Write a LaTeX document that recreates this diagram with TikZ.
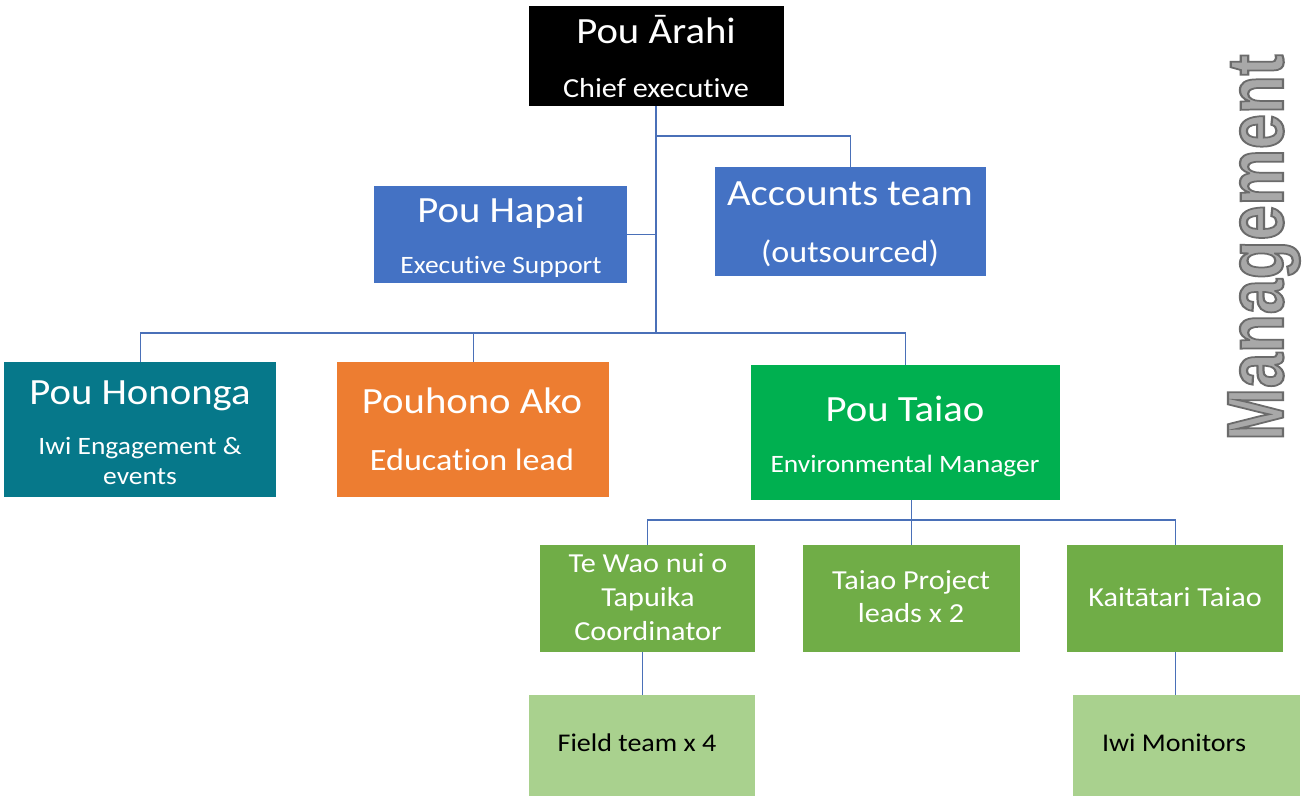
\documentclass[tikz,border=0pt]{standalone}
\usepackage{fontspec}
\setmainfont{Carlito}[Ligatures=NoCommon]
\newfontfamily\mgmtfont{Liberation Sans}
\usepackage{graphicx}
\definecolor{cblack}{HTML}{000000}
\definecolor{cblue}{HTML}{4472C4}
\definecolor{cteal}{HTML}{06788A}
\definecolor{corange}{HTML}{ED7D31}
\definecolor{cgreen}{HTML}{00B050}
\definecolor{cmid}{HTML}{70AD47}
\definecolor{clight}{HTML}{A9D18E}
\definecolor{linec}{HTML}{4A70B8}
\definecolor{mgray}{HTML}{A8A8A8}
\newcommand{\hwide}[1]{\scalebox{1.1}[1]{#1}}
\newcommand{\outlined}[1]{\special{pdf:literal 2 Tr 2.2 w 0.42 0.42 0.42 RG}#1\special{pdf:literal 0 Tr}}
\tikzset{
  box/.style={rectangle, draw=none, inner sep=0pt, anchor=north west},
  lbl/.style={anchor=base, inner sep=0pt, text=white},
  big/.style={lbl, font=\fontsize{37}{37}\selectfont},
  sub/.style={lbl, font=\fontsize{25}{25}\selectfont},
  mid/.style={lbl, font=\fontsize{31}{31}\selectfont},
  grn/.style={lbl, font=\fontsize{27.5}{27.5}\selectfont},
  lgt/.style={lbl, text=black, font=\fontsize{25.5}{25.5}\selectfont},
  conn/.style={draw=linec, line width=1.2pt},
  trunk/.style={draw=linec, line width=2pt},
}
\begin{document}
\begin{tikzpicture}[x=1pt,y=-1pt]
\useasboundingbox (0,0) rectangle (1303,796);
% boxes
\node[box, fill=cblack, minimum width=255pt, minimum height=100pt] (arahi) at (528.5,6) {};
\node[box, fill=cblue, minimum width=253pt, minimum height=97pt] (hapai) at (374,186) {};
\node[box, fill=cblue, minimum width=271pt, minimum height=109pt] (accounts) at (715,167) {};
\node[box, fill=cteal, minimum width=272pt, minimum height=135pt] (hononga) at (4,362) {};
\node[box, fill=corange, minimum width=272pt, minimum height=135pt] (ako) at (337,362) {};
\node[box, fill=cgreen, minimum width=309pt, minimum height=135pt] (taiao) at (751,365) {};
\node[box, fill=cmid, minimum width=215pt, minimum height=107pt] (tewao) at (540,545) {};
\node[box, fill=cmid, minimum width=217pt, minimum height=107pt] (project) at (803,545) {};
\node[box, fill=cmid, minimum width=216pt, minimum height=107pt] (kai) at (1067,545) {};
\node[box, fill=clight, minimum width=226pt, minimum height=101pt] (field) at (529,695) {};
\node[box, fill=clight, minimum width=227pt, minimum height=101pt] (iwi) at (1073,695) {};
% texts
\node[big] (t1) at (656,43) {\hwide{Pou Ārahi}};
\node[sub, font=\fontsize{27.5}{27.5}\selectfont] (t2) at (656,97) {\hwide{Chief executive}};
\node[big] (t3) at (501,222) {\hwide{Pou Hapai}};
\node[sub] (t4) at (501,273) {\hwide{Executive Support}};
\node[big] (t5) at (850,205) {\hwide{Accounts team}};
\node[mid] (t6) at (850,262) {\hwide{(outsourced)}};
\node[big] (t7) at (140,404) {\hwide{Pou Hononga}};
\node[sub] (t8) at (140,454) {\hwide{Iwi Engagement \&}};
\node[sub] (t9) at (140,484) {\hwide{events}};
\node[big] (t10) at (472,413) {\hwide{Pouhono Ako}};
\node[mid] (t11) at (472,470) {\hwide{Education lead}};
\node[big] (t12) at (905,421) {\hwide{Pou Taiao}};
\node[sub] (t13) at (905,472) {\hwide{Environmental Manager}};
\node[grn] (t14) at (648,572) {\hwide{Te Wao nui o}};
\node[grn] (t15) at (648,606) {\hwide{Tapuika}};
\node[grn] (t16) at (648,640) {\hwide{Coordinator}};
\node[grn] (t17) at (911,589) {\hwide{Taiao Project}};
\node[grn] (t18) at (911,622) {\hwide{leads x 2}};
\node[grn] (t19) at (1175,606) {\hwide{Kaitātari Taiao}};
\node[lgt] (t20) at (637,751) {\hwide{Field team x 4}};
\node[lgt] (t21) at (1174,751) {\hwide{Iwi Monitors}};
% side title
\node[anchor=base, rotate=90, inner sep=0pt, text=mgray, font=\mgmtfont\bfseries\fontsize{80}{80}\selectfont] (mgmt) at (1283,247.5) {\scalebox{0.79}[1]{\outlined{Management}}};
% connectors
\coordinate (j1) at (656,136);
\coordinate (bus) at (656,333);
\coordinate (tbus) at (912,520);
\draw[trunk] (arahi.south) -- (arahi.south |- bus);
\draw[conn] (arahi.south |- j1) -| (accounts.north);
\draw[conn] (hapai.east) -- (hapai.east -| arahi.south);
\draw[conn] (hononga.north) |- (bus) -| (taiao.north);
\draw[conn] (ako.north) -- (ako.north |- bus);
\draw[conn] (project.north |- taiao.south) -- (project.north);
\draw[conn] (tewao.north) |- (tbus) -| (kai.north);
\draw[conn] (field.north) -- (field.north |- tewao.south);
\draw[conn] (kai.south) -- (kai.south |- iwi.north);
\end{tikzpicture}
\end{document}
